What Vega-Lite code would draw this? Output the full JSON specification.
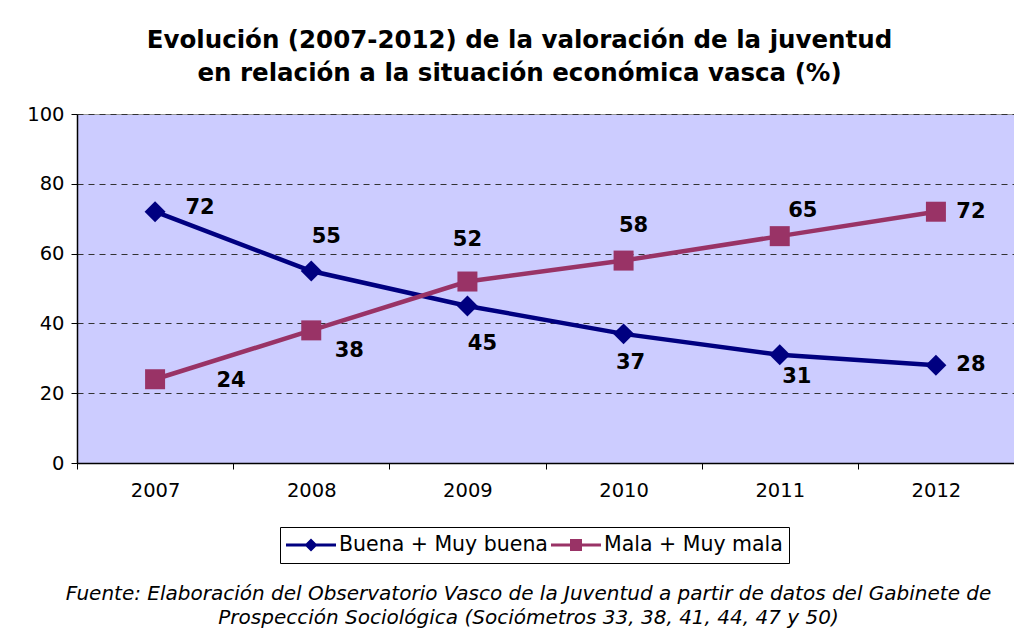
{
  "$schema": "https://vega.github.io/schema/vega-lite/v6.json",
  "width": 937,
  "height": 349,
  "autosize": {"type": "none"},
  "padding": {"left": 77, "top": 114, "right": 0, "bottom": 169},
  "background": "white",
  "config": {
    "font": "DejaVu Sans",
    "view": {"fill": "#CCCCFF", "stroke": "#999999", "strokeWidth": 1}
  },
  "title": {
    "text": ["Evolución (2007-2012) de la valoración de la juventud", "en relación a la situación económica vasca (%)"],
    "font": "DejaVu Sans",
    "fontSize": 24.5,
    "fontWeight": "bold",
    "color": "black",
    "lineHeight": 33,
    "anchor": "middle",
    "dx": -26,
    "offset": 18
  },
  "data": {
    "values": [
      {"anio": "2007", "serie": "Buena + Muy buena", "valor": 72},
      {"anio": "2008", "serie": "Buena + Muy buena", "valor": 55},
      {"anio": "2009", "serie": "Buena + Muy buena", "valor": 45},
      {"anio": "2010", "serie": "Buena + Muy buena", "valor": 37},
      {"anio": "2011", "serie": "Buena + Muy buena", "valor": 31},
      {"anio": "2012", "serie": "Buena + Muy buena", "valor": 28},
      {"anio": "2007", "serie": "Mala + Muy mala", "valor": 24},
      {"anio": "2008", "serie": "Mala + Muy mala", "valor": 38},
      {"anio": "2009", "serie": "Mala + Muy mala", "valor": 52},
      {"anio": "2010", "serie": "Mala + Muy mala", "valor": 58},
      {"anio": "2011", "serie": "Mala + Muy mala", "valor": 65},
      {"anio": "2012", "serie": "Mala + Muy mala", "valor": 72}
    ]
  },
  "encoding": {
    "x": {
      "field": "anio",
      "type": "ordinal",
      "scale": {"type": "band", "paddingInner": 0, "paddingOuter": 0},
      "axis": {
        "title": ["Fuente: Elaboración del Observatorio Vasco de la Juventud a partir de datos del Gabinete de", "Prospección Sociológica (Sociómetros 33, 38, 41, 44, 47 y 50)"],
        "titleFont": "DejaVu Sans",
        "titleFontSize": 20,
        "titleFontWeight": "normal",
        "titleFontStyle": "italic",
        "titleColor": "black",
        "titleLineHeight": 24,
        "titleBaseline": "top",
        "titleX": 451,
        "titleY": 120,
        "labelAngle": 0,
        "labelFont": "DejaVu Sans",
        "labelFontSize": 19.5,
        "labelColor": "black",
        "labelPadding": 12,
        "tickBand": "extent",
        "tickSize": 6,
        "tickColor": "black",
        "domainColor": "black",
        "domainWidth": 1.5,
        "grid": false
      }
    },
    "y": {
      "field": "valor",
      "type": "quantitative",
      "scale": {"domain": [0, 100], "nice": false},
      "axis": {
        "title": null,
        "values": [0, 20, 40, 60, 80, 100],
        "labelFont": "DejaVu Sans",
        "labelFontSize": 19.5,
        "labelColor": "black",
        "labelPadding": 7,
        "tickSize": 6,
        "tickColor": "black",
        "domainColor": "black",
        "domainWidth": 1.5,
        "grid": true,
        "gridColor": "#333333",
        "gridDash": [6, 5],
        "gridWidth": 1
      }
    },
    "color": {
      "field": "serie",
      "type": "nominal",
      "scale": {"domain": ["Buena + Muy buena", "Mala + Muy mala"], "range": ["#000080", "#993366"]},
      "legend": {
        "title": null,
        "orient": "none",
        "legendX": 203,
        "legendY": 413,
        "direction": "horizontal",
        "strokeColor": "black",
        "fillColor": "white",
        "padding": 6,
        "symbolSize": 2500,
        "clipHeight": 24,
        "columnPadding": 3,
        "labelOffset": 3,
        "labelLimit": 0,
        "labelFont": "DejaVu Sans",
        "labelFontSize": 20.5,
        "labelColor": "black",
        "symbolStrokeWidth": 0,
        "symbolOpacity": 1,
        "encode": {
          "symbols": {
            "update": {
              "shape": {"signal": "datum.value === 'Buena + Muy buena' ? 'M-1,-0.06L-0.2,-0.06L0,-0.26L0.2,-0.06L1,-0.06L1,0.06L0.2,0.06L0,0.26L-0.2,0.06L-1,0.06Z' : 'M-1,-0.06L-0.24,-0.06L-0.24,-0.24L0.24,-0.24L0.24,-0.06L1,-0.06L1,0.06L0.24,0.06L0.24,0.24L-0.24,0.24L-0.24,0.06L-1,0.06Z'"},
              "fill": {"signal": "datum.value === 'Buena + Muy buena' ? '#000080' : '#993366'"},
              "stroke": {"value": "transparent"},
              "size": {"value": 2500},
              "strokeWidth": {"value": 0},
              "opacity": {"value": 1}
            }
          }
        }
      }
    }
  },
  "layer": [
    {
      "mark": {"type": "line", "strokeWidth": 4.5}
    },
    {
      "transform": [{"filter": "datum.serie === 'Buena + Muy buena'"}],
      "mark": {"type": "point", "shape": "diamond", "filled": true, "opacity": 1, "size": 440, "strokeWidth": 0}
    },
    {
      "transform": [{"filter": "datum.serie === 'Mala + Muy mala'"}],
      "mark": {"type": "point", "shape": "square", "filled": true, "opacity": 1, "size": 400, "strokeWidth": 0}
    },
    {
      "transform": [{"filter": "datum.serie === 'Buena + Muy buena' && datum.anio === '2007'"}],
      "mark": {"type": "text", "fontWeight": "bold", "fontSize": 21, "dx": 45, "dy": -4},
      "encoding": {"text": {"field": "valor"}, "color": {"value": "black"}}
    },
    {
      "transform": [{"filter": "datum.serie === 'Buena + Muy buena' && datum.anio === '2008'"}],
      "mark": {"type": "text", "fontWeight": "bold", "fontSize": 21, "dx": 15, "dy": -34},
      "encoding": {"text": {"field": "valor"}, "color": {"value": "black"}}
    },
    {
      "transform": [{"filter": "datum.serie === 'Buena + Muy buena' && datum.anio === '2009'"}],
      "mark": {"type": "text", "fontWeight": "bold", "fontSize": 21, "dx": 15, "dy": 38},
      "encoding": {"text": {"field": "valor"}, "color": {"value": "black"}}
    },
    {
      "transform": [{"filter": "datum.serie === 'Buena + Muy buena' && datum.anio === '2010'"}],
      "mark": {"type": "text", "fontWeight": "bold", "fontSize": 21, "dx": 7, "dy": 29},
      "encoding": {"text": {"field": "valor"}, "color": {"value": "black"}}
    },
    {
      "transform": [{"filter": "datum.serie === 'Buena + Muy buena' && datum.anio === '2011'"}],
      "mark": {"type": "text", "fontWeight": "bold", "fontSize": 21, "dx": 17, "dy": 22},
      "encoding": {"text": {"field": "valor"}, "color": {"value": "black"}}
    },
    {
      "transform": [{"filter": "datum.serie === 'Buena + Muy buena' && datum.anio === '2012'"}],
      "mark": {"type": "text", "fontWeight": "bold", "fontSize": 21, "dx": 35, "dy": 0},
      "encoding": {"text": {"field": "valor"}, "color": {"value": "black"}}
    },
    {
      "transform": [{"filter": "datum.serie === 'Mala + Muy mala' && datum.anio === '2007'"}],
      "mark": {"type": "text", "fontWeight": "bold", "fontSize": 21, "dx": 76, "dy": 2},
      "encoding": {"text": {"field": "valor"}, "color": {"value": "black"}}
    },
    {
      "transform": [{"filter": "datum.serie === 'Mala + Muy mala' && datum.anio === '2008'"}],
      "mark": {"type": "text", "fontWeight": "bold", "fontSize": 21, "dx": 38, "dy": 21},
      "encoding": {"text": {"field": "valor"}, "color": {"value": "black"}}
    },
    {
      "transform": [{"filter": "datum.serie === 'Mala + Muy mala' && datum.anio === '2009'"}],
      "mark": {"type": "text", "fontWeight": "bold", "fontSize": 21, "dx": 0, "dy": -42},
      "encoding": {"text": {"field": "valor"}, "color": {"value": "black"}}
    },
    {
      "transform": [{"filter": "datum.serie === 'Mala + Muy mala' && datum.anio === '2010'"}],
      "mark": {"type": "text", "fontWeight": "bold", "fontSize": 21, "dx": 10, "dy": -35},
      "encoding": {"text": {"field": "valor"}, "color": {"value": "black"}}
    },
    {
      "transform": [{"filter": "datum.serie === 'Mala + Muy mala' && datum.anio === '2011'"}],
      "mark": {"type": "text", "fontWeight": "bold", "fontSize": 21, "dx": 23, "dy": -25},
      "encoding": {"text": {"field": "valor"}, "color": {"value": "black"}}
    },
    {
      "transform": [{"filter": "datum.serie === 'Mala + Muy mala' && datum.anio === '2012'"}],
      "mark": {"type": "text", "fontWeight": "bold", "fontSize": 21, "dx": 35, "dy": 0},
      "encoding": {"text": {"field": "valor"}, "color": {"value": "black"}}
    }
  ]
}
